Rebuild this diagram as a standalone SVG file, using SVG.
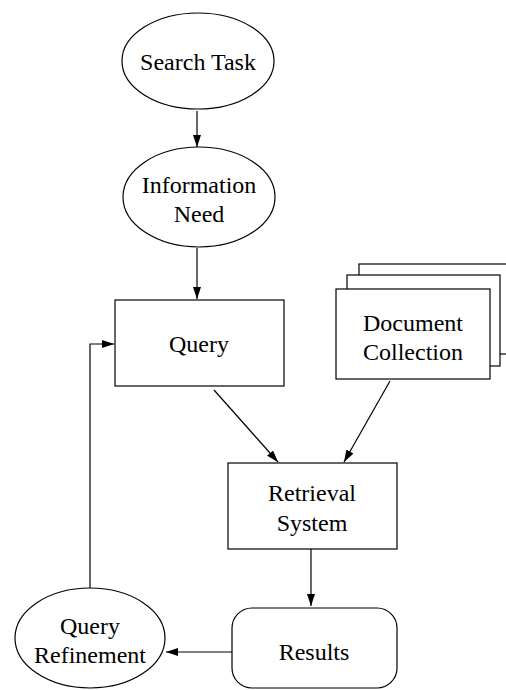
<svg xmlns="http://www.w3.org/2000/svg" width="506" height="690" viewBox="0 0 506 690">
<style>
.s{fill:#fff;stroke:#000;stroke-width:1.2}
.c{fill:none;stroke:#000;stroke-width:1.2}
</style>
<defs>
<marker id="a" viewBox="0 0 12 8" refX="12" refY="4" markerWidth="12" markerHeight="8" markerUnits="userSpaceOnUse" orient="auto">
<path d="M0,0 L12,4 L0,8 z" fill="#000"/>
</marker>
</defs>
<rect width="506" height="690" fill="#fff"/>
<g font-family="Liberation Serif, Times New Roman, Times, DejaVu Serif, serif" font-size="24" text-anchor="middle" fill="#000">
<g id="search-task"><ellipse class="s" cx="198" cy="61" rx="76" ry="48"/><text x="198" y="70">Search Task</text></g>
<g id="information-need"><ellipse class="s" cx="199" cy="197" rx="76" ry="50"/><text x="199" y="193">Information</text><text x="199" y="222">Need</text></g>
<g id="query"><rect class="s" x="115" y="300" width="169" height="86"/><text x="199" y="352">Query</text></g>
<g id="document-collection">
<rect class="s" x="359" y="264" width="152" height="90"/>
<rect class="s" x="347" y="275" width="153" height="91"/>
<rect class="s" x="336" y="289" width="154" height="90"/>
<text x="413" y="331">Document</text><text x="413" y="360">Collection</text>
</g>
<g id="retrieval-system"><rect class="s" x="228" y="463" width="169" height="86"/><text x="312" y="501">Retrieval</text><text x="312" y="531">System</text></g>
<g id="results"><rect class="s" x="232" y="608" width="165" height="80" rx="20"/><text x="314" y="660">Results</text></g>
<g id="query-refinement"><ellipse class="s" cx="90" cy="638" rx="75" ry="50"/><text x="90" y="634">Query</text><text x="90" y="663">Refinement</text></g>
</g>
<g id="connectors">
<line class="c" x1="197" y1="111" x2="197" y2="147" marker-end="url(#a)"/>
<line class="c" x1="197" y1="248" x2="197" y2="299" marker-end="url(#a)"/>
<line class="c" x1="214" y1="390" x2="278" y2="462" marker-end="url(#a)"/>
<line class="c" x1="390" y1="381" x2="344" y2="462" marker-end="url(#a)"/>
<line class="c" x1="311" y1="549" x2="311" y2="606" marker-end="url(#a)"/>
<line class="c" x1="232" y1="652" x2="166" y2="652" marker-end="url(#a)"/>
<polyline class="c" points="90,588 90,344 114,344" marker-end="url(#a)"/>
</g>
</svg>
